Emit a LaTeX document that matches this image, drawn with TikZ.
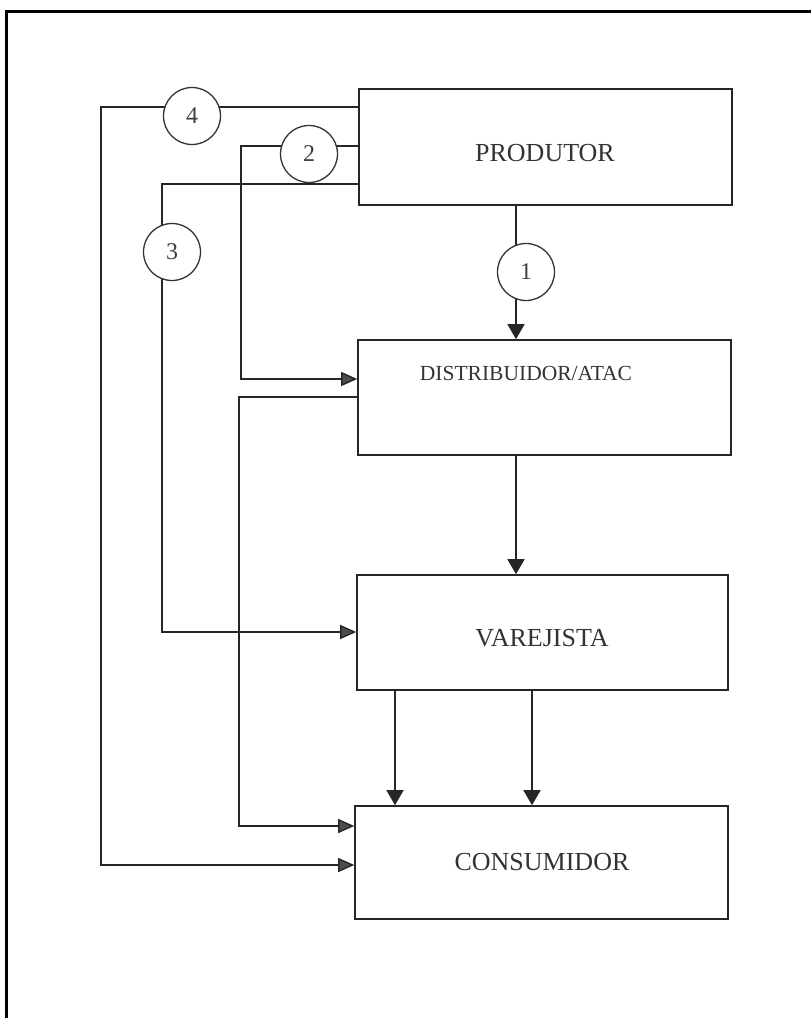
\documentclass[tikz,border=0pt]{standalone}
\usepackage{fontspec}
\setmainfont{Liberation Serif}
\usetikzlibrary{arrows.meta}
\begin{document}
\begin{tikzpicture}[x=1pt,y=-1pt,
  box/.style={draw=black!85,line width=1.6pt,rectangle,inner sep=0pt},
  lbl/.style={font=\fontsize{26}{30}\selectfont,text=black!80},
  circ/.style={draw=black!80,line width=1.3pt,circle,fill=white,minimum size=57pt,inner sep=0pt,font=\fontsize{24}{26}\selectfont,text=black!75},
  conn/.style={draw=black!85,line width=1.4pt},
  sidearrow/.style={conn,-{Triangle[length=16pt,width=14pt,fill=black!70]}},
  downarrow/.style={conn,-{Triangle[length=15pt,width=17pt]}}]
\useasboundingbox (0,0) rectangle (811,1018);
% frame
\draw[line width=3pt] (6,1018) -- (6,11) -- (811,11);
% boxes
\node[box,minimum width=373pt,minimum height=116pt] (prod) at (545.5,147) {};
\node[lbl] (ptext) at (545,153) {PRODUTOR};
\node[box,minimum width=373pt,minimum height=115pt] (dist) at (544.5,397.5) {};
\node[lbl,font=\fontsize{21.5}{26}\selectfont] (dtext) at (526,373) {DISTRIBUIDOR/ATAC};
\node[box,minimum width=371pt,minimum height=115pt] (var) at (542.5,632.5) {};
\node[lbl] (vtext) at (542,638) {VAREJISTA};
\node[box,minimum width=373pt,minimum height=113pt] (cons) at (541.5,862.5) {};
\node[lbl] (ctext) at (542,862) {CONSUMIDOR};
% routing coordinates
\coordinate (x1) at (516,0);
\coordinate (xa) at (395,0);
\coordinate (xb) at (532,0);
\coordinate (k4) at (101,107);
\coordinate (k4b) at (101,865);
\coordinate (k2) at (241,146);
\coordinate (k2b) at (241,379);
\coordinate (k3) at (162,184);
\coordinate (k3b) at (162,632);
\coordinate (kd) at (239,397);
\coordinate (kdb) at (239,826);
% connectors
\draw[downarrow] (prod.south -| x1) -- (dist.north -| x1);
\draw[downarrow] (dist.south -| x1) -- (var.north -| x1);
\draw[downarrow] (var.south -| xa) -- (cons.north -| xa);
\draw[downarrow] (var.south -| xb) -- (cons.north -| xb);
\draw[sidearrow] (prod.west |- k4) -- (k4) -- (k4b) -- (cons.west |- k4b);
\draw[sidearrow] (prod.west |- k2) -- (k2) -- (k2b) -- (dist.west |- k2b);
\draw[sidearrow] (prod.west |- k3) -- (k3) -- (k3b) -- (var.west |- k3b);
\draw[sidearrow] (dist.west |- kd) -- (kd) -- (kdb) -- (cons.west |- kdb);
% circles
\node[circ] (c4) at (192,116) {4};
\node[circ] (c2) at (309,154) {2};
\node[circ] (c3) at (172,252) {3};
\node[circ] (c1) at (526,272) {1};
\end{tikzpicture}
\end{document}
